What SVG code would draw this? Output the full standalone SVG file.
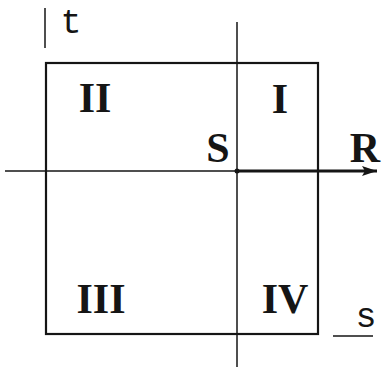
<svg xmlns="http://www.w3.org/2000/svg" width="382" height="367" viewBox="0 0 382 367">
<style>
.ln{stroke:#151515;fill:none;stroke-width:1.5}
.bx{stroke:#151515;fill:none;stroke-width:2.2}
.rom{font-family:"Liberation Serif",serif;font-weight:bold;font-size:42px;fill:#151515}
.mono{font-family:"Liberation Mono",monospace;font-size:35px;fill:#151515}
</style>
<defs>
<marker id="ah" markerWidth="16" markerHeight="10" refX="15" refY="5" orient="auto" markerUnits="userSpaceOnUse">
<path d="M0,0 L15,5 L0,10 L3,5 Z" fill="#151515"/>
</marker>
</defs>
<rect width="382" height="367" fill="#fff"/>
<g id="square"><rect class="bx" x="46" y="63" width="272" height="271"/></g>
<g id="connectors">
<line class="ln" x1="237" y1="22" x2="237" y2="367"/>
<line class="ln" x1="5" y1="171" x2="237" y2="171"/>
<line x1="237" y1="171" x2="377" y2="171" stroke="#151515" stroke-width="3" marker-end="url(#ah)"/>
<circle cx="237" cy="171" r="2.5" fill="#151515"/>
</g>
<g id="axis-t"><line class="ln" x1="45" y1="8" x2="45" y2="48"/><text class="mono" x="71" y="33" text-anchor="middle">t</text></g>
<g id="axis-s"><line class="ln" x1="333" y1="336" x2="373" y2="336"/><text class="mono" x="366" y="327" text-anchor="middle">s</text></g>
<g id="q2"><text class="rom" x="95" y="112" text-anchor="middle">II</text></g>
<g id="q1"><text class="rom" x="280" y="113" text-anchor="middle">I</text></g>
<g id="q3"><text class="rom" x="101" y="313" text-anchor="middle">III</text></g>
<g id="q4"><text class="rom" x="285" y="313" text-anchor="middle">IV</text></g>
<g id="S"><text class="rom" x="218" y="162" text-anchor="middle">S</text></g>
<g id="R"><text class="rom" x="365" y="162" text-anchor="middle">R</text></g>
</svg>
